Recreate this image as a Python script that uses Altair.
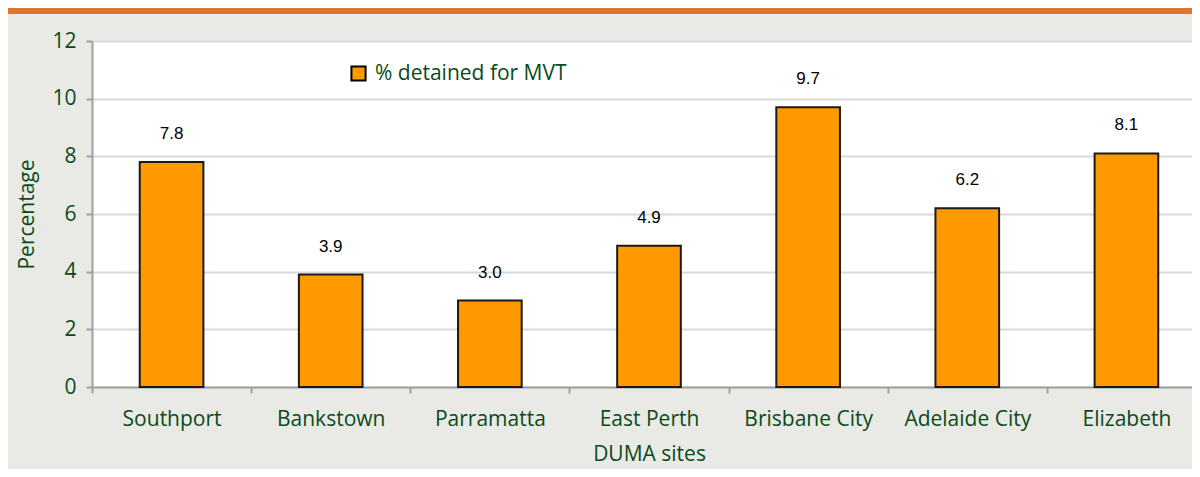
import altair as alt
import pandas as pd

sites = ["Southport", "Bankstown", "Parramatta", "East Perth", "Brisbane City", "Adelaide City", "Elizabeth"]
values = [7.8, 3.9, 3.0, 4.9, 9.7, 6.2, 8.1]
series_name = "% detained for MVT"

df = pd.DataFrame({"site": sites, "value": values, "series": [series_name] * len(sites)})

GREEN = "#0b4a1a"
FONT = "Open Sans"
W, H = 1114, 346

x = alt.X("site:N", sort=sites, title="DUMA sites",
          scale=alt.Scale(paddingInner=0, paddingOuter=0),
          axis=alt.Axis(labelAngle=0, tickBand="extent", tickSize=6, labelPadding=15,
                        titlePadding=14, domainColor="#a0a0a0", domainWidth=2,
                        tickColor="#a0a0a0", tickWidth=2, grid=False,
                        labelFontSize=21, titleFontSize=21))
y = alt.Y("value:Q", title="Percentage",
          scale=alt.Scale(domain=[0, 12], nice=False),
          axis=alt.Axis(values=[0, 2, 4, 6, 8, 10, 12], tickSize=6, labelPadding=10,
                        titlePadding=14, domainColor="#a0a0a0", domainWidth=2,
                        tickColor="#a0a0a0", tickWidth=2, gridColor="#d9d9d9", gridWidth=2,
                        labelFontSize=21, titleFontSize=21))

bars = alt.Chart(df).mark_bar(width=alt.RelativeBandSize(0.4), stroke="#1a1a1a", strokeWidth=2).encode(
    x=x, y=y,
    color=alt.Color("series:N", scale=alt.Scale(range=["#ff9900"]),
                    legend=alt.Legend(title=None, orient="none", legendX=256, legendY=22,
                                      symbolType="square", symbolSize=200,
                                      symbolStrokeColor="#000000", symbolStrokeWidth=2,
                                      labelFontSize=21, labelColor=GREEN, labelFont=FONT,
                                      labelOffset=6, labelLimit=0)),
)

labels = alt.Chart(df).mark_text(baseline="alphabetic", dy=-23, fontSize=17, font="Liberation Sans",
                                 color="#000000").encode(
    x=alt.X("site:N", sort=sites), y=alt.Y("value:Q"),
    text=alt.Text("value:Q", format=".1f"),
)

topband = alt.Chart(df).mark_rect(color="#e07230").encode(
    x=alt.value(-84), x2=alt.value(W), y=alt.value(-33), y2=alt.value(-27)
)

chart = alt.layer(topband, bars, labels).properties(
    width=W, height=H,
    autosize=alt.AutoSizeParams(type="none"),
    padding={"left": 84, "top": 33, "right": -14, "bottom": 82},
    background="#e9eae5",
).configure_view(fill="#ffffff", stroke=None).configure_axis(
    labelFont=FONT, titleFont=FONT,
    labelColor=GREEN, titleColor=GREEN, titleFontWeight="normal",
)

chart.save("out.html", embed_options={"renderer": "svg", "actions": False})
